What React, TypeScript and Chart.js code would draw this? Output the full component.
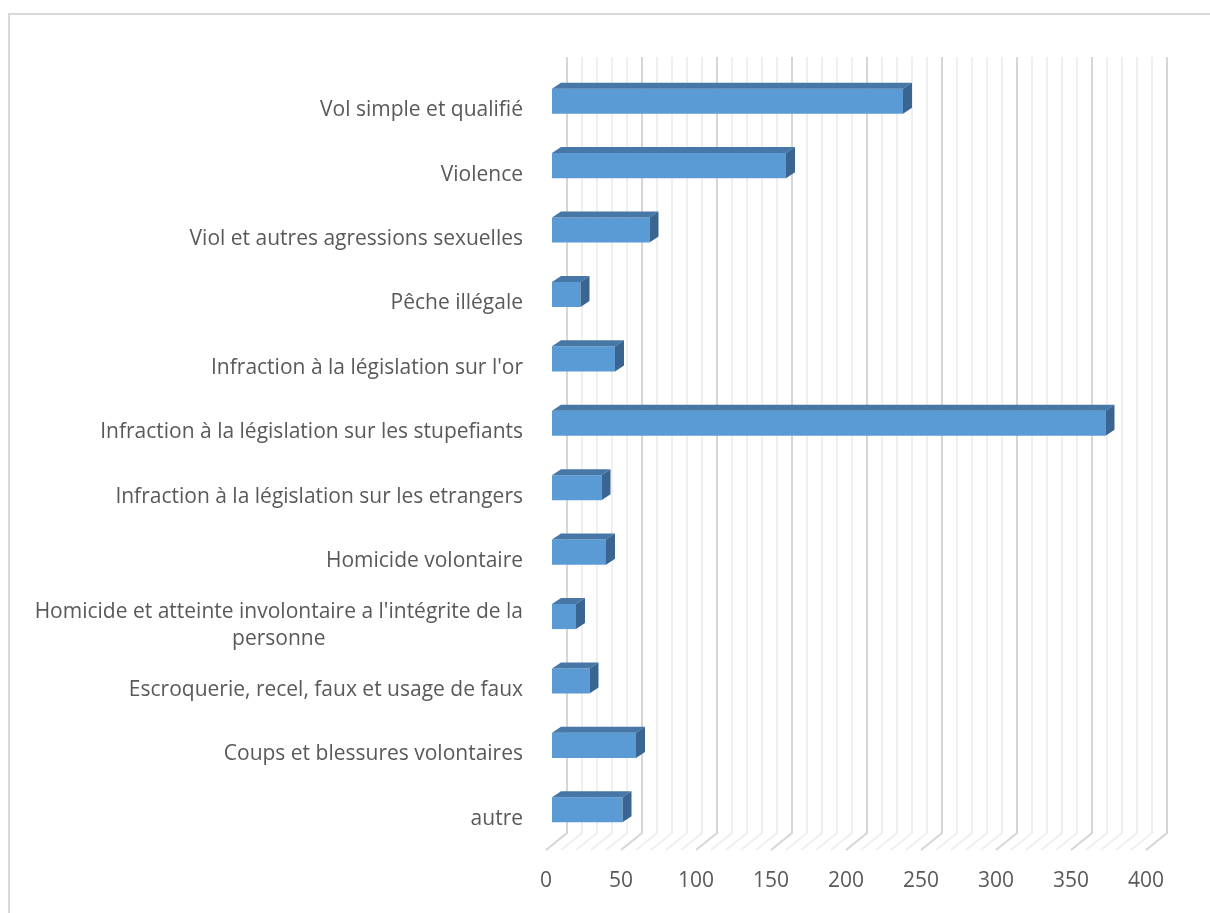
import React, { useEffect, useRef } from "react";
import { Chart, registerables } from "chart.js";

Chart.register(...registerables);

const categories: (string | string[])[] = [
  "Vol simple et qualifié",
  "Violence",
  "Viol et autres agressions sexuelles",
  "Pêche illégale",
  "Infraction à la législation sur l'or",
  "Infraction à la législation sur les stupefiants",
  "Infraction à la législation sur les etrangers",
  "Homicide volontaire",
  ["Homicide et atteinte involontaire a l'intégrite de la", "personne"],
  "Escroquerie, recel, faux et usage de faux",
  "Coups et blessures volontaires",
  "autre",
];

const values: number[] = [234, 156, 65, 19, 42, 369, 33, 36, 16, 25, 56, 47];

const axisMin = 0;
const axisMax = 400;
const majorStep = 50;
const minorStep = 10;

const FONT = "'Open Sans', Lato, sans-serif";
const TEXT = "#595959";

const threeD = {
  id: "threeD",
  beforeDatasetsDraw(chart: any) {
    const { ctx, chartArea: a, scales } = chart;
    const x = scales.x;
    ctx.save();
    for (const pass of [0, 1]) {
      for (let v = axisMin; v <= axisMax; v += minorStep) {
        const major = v % majorStep === 0;
        if ((pass === 1) !== major) continue;
        const px = x.getPixelForValue(v);
        ctx.strokeStyle = major ? "#d6d6d6" : "#efefef";
        ctx.lineWidth = 2;
        ctx.beginPath();
        ctx.moveTo(px + 15, a.top - 12);
        ctx.lineTo(px + 15, a.bottom - 9);
        ctx.lineTo(px - 6, a.bottom + 8);
        ctx.stroke();
      }
    }
    ctx.restore();
  },
  afterDatasetsDraw(chart: any) {
    const { ctx } = chart;
    const meta = chart.getDatasetMeta(0);
    const d = 9;
    const e = 6;
    ctx.save();
    meta.data.forEach((bar: any) => {
      const { x, y, base, height } = bar.getProps(["x", "y", "base", "height"], true);
      const top = y - height / 2;
      const bottom = y + height / 2;
      ctx.fillStyle = "#4677a6";
      ctx.beginPath();
      ctx.moveTo(base, top);
      ctx.lineTo(base + d, top - e);
      ctx.lineTo(x + d, top - e);
      ctx.lineTo(x, top);
      ctx.closePath();
      ctx.fill();
      ctx.fillStyle = "#3a6590";
      ctx.beginPath();
      ctx.moveTo(x, top);
      ctx.lineTo(x + d, top - e);
      ctx.lineTo(x + d, bottom - e);
      ctx.lineTo(x, bottom);
      ctx.closePath();
      ctx.fill();
    });
    ctx.restore();
  },
  afterDraw(chart: any) {
    const { ctx, scales } = chart;
    const yScale = scales.y;
    const rightX = 513;
    const lineH = 27;
    ctx.save();
    ctx.font = `21px ${FONT}`;
    ctx.fillStyle = TEXT;
    ctx.textAlign = "center";
    ctx.textBaseline = "middle";
    const labels = chart.data.labels as (string | string[])[];
    labels.forEach((lab, i) => {
      const lines = Array.isArray(lab) ? lab : [lab];
      const w = Math.max(...lines.map((l) => ctx.measureText(l).width));
      const cx = rightX - w / 2;
      const cy = yScale.getPixelForTick(i) + 9;
      const startY = cy - ((lines.length - 1) * lineH) / 2;
      lines.forEach((l, k) => ctx.fillText(l, cx, startY + k * lineH));
    });
    ctx.restore();
  },
};

export default function App() {
  const ref = useRef<HTMLCanvasElement>(null);
  useEffect(() => {
    if (!ref.current) return;
    const chart = new Chart(ref.current, {
      type: "bar",
      data: {
        labels: categories as any,
        datasets: [
          {
            data: values,
            backgroundColor: "#5b9bd5",
            borderWidth: 0,
            barPercentage: 0.39,
            categoryPercentage: 1,
          },
        ],
      },
      options: {
        indexAxis: "y",
        responsive: false,
        animation: false,
        devicePixelRatio: 1,
        layout: { padding: { left: 542, right: 58, top: 54, bottom: 0 } },
        plugins: { legend: { display: false }, tooltip: { enabled: false } },
        scales: {
          x: {
            min: axisMin,
            max: axisMax,
            grid: { display: false },
            border: { display: false },
            ticks: {
              stepSize: majorStep,
              color: TEXT,
              font: { size: 21, family: FONT },
              padding: 18,
              labelOffset: -6,
              maxRotation: 0,
            },
            afterFit: (s: any) => {
              s.height = 71;
            },
          },
          y: {
            display: false,
          },
        },
      },
      plugins: [threeD],
    });
    return () => chart.destroy();
  }, []);
  return (
    <div
      style={{
        position: "absolute",
        left: 8,
        top: 13,
        width: 1202,
        height: 900,
        overflow: "hidden",
      }}
    >
      <div
        style={{
          borderTop: "2px solid #d9d9d9",
          borderLeft: "2px solid #d9d9d9",
          width: 1300,
          height: 1000,
        }}
      >
        <canvas ref={ref} width={1200} height={898} style={{ display: "block" }} />
      </div>
    </div>
  );
}
